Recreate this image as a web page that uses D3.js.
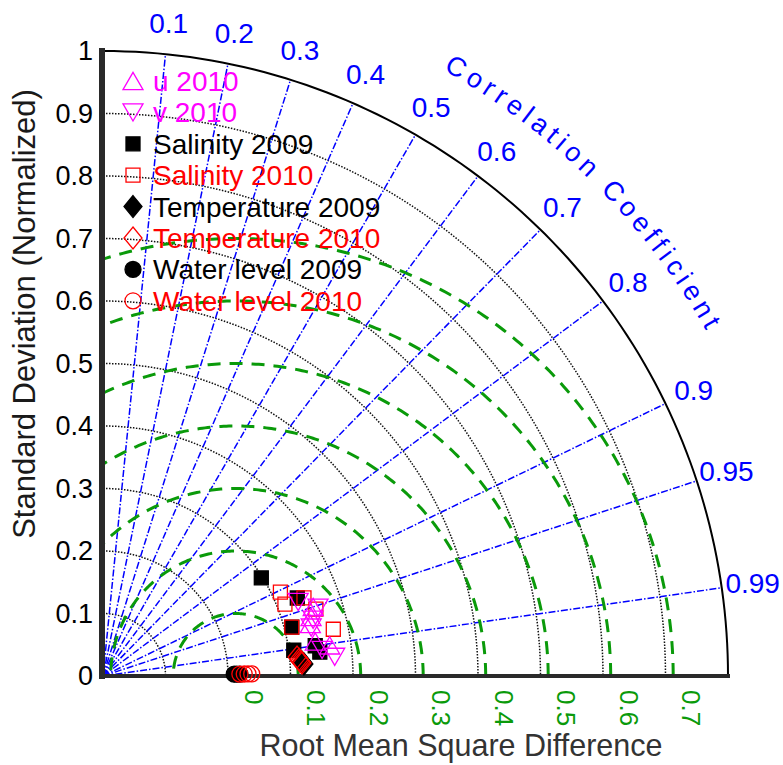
<!DOCTYPE html>
<html>
<head>
<meta charset="utf-8">
<script src="https://cdn.jsdelivr.net/npm/d3@7"></script>
<style>
  body { margin: 0; background: #fff; }
  svg { font-family: Arial, "Liberation Sans", sans-serif; }
</style>
</head>
<body>
<svg id="chart"></svg>
<script>
// Taylor diagram - normalized std / correlation / RMS difference
const stdTicks = [0, 0.1, 0.2, 0.3, 0.4, 0.5, 0.6, 0.7, 0.8, 0.9, 1];
const corrTicks = [0.1, 0.2, 0.3, 0.4, 0.5, 0.6, 0.7, 0.8, 0.9, 0.95, 0.99];
const rmsTicks = [0, 0.1, 0.2, 0.3, 0.4, 0.5, 0.6, 0.7];
const refStd = 0.2123;

const legendLabels = ["u 2010", "v 2010", "Salinity 2009", "Salinity 2010",
    "Temperature 2009", "Temperature 2010", "Water level 2009", "Water level 2010"];

const uStd = [0.354, 0.346, 0.342, 0.344, 0.366];
const uCorr = [0.950, 0.962, 0.970, 0.987, 0.991];
const vStd = [0.334, 0.361, 0.342, 0.348, 0.353, 0.372];
const vCorr = [0.935, 0.953, 0.974, 0.966, 0.993, 0.9966];
const sal09Std = [0.298, 0.335, 0.312, 0.308, 0.343, 0.349];
const sal09Corr = [0.850, 0.928, 0.968, 0.991, 0.990, 0.994];
const sal10Std = [0.314, 0.313, 0.345, 0.357, 0.376, 0.312];
const sal10Corr = [0.904, 0.930, 0.932, 0.954, 0.980, 0.968];
const tem09Std = [0.319, 0.322];
const tem09Corr = [0.9975, 0.9982];
const tem10Std = [0.312, 0.315, 0.316, 0.318, 0.319];
const tem10Corr = [0.9953, 0.9964, 0.9971, 0.9975, 0.9979];
const wl09Std = [0.210, 0.214, 0.219];
const wl09Corr = [0.9999, 0.9999, 0.9999];
const wl10Std = [0.219, 0.226, 0.232, 0.238];
const wl10Corr = [0.9999, 0.9999, 0.9999, 0.9999];

const W = 783, H = 765;
const ox = 103, oy = 676;
const blue = "#0000ff", green = "#0a9a0a", magenta = "#ff00ff", red = "#ff0000";

const svg = d3.select("#chart").attr("width", W).attr("height", H);
const r = d3.scaleLinear().domain([0, 1]).range([0, 625]);

function pos(s, c) {
    const a = Math.acos(c);
    return [ox + r(s) * Math.cos(a), oy - r(s) * Math.sin(a)];
}

// marker shapes (size = pixel width)
const shapes = {
    square: { draw(ctx, s) { ctx.rect(-s / 2, -s / 2, s, s); } },
    diamond: { draw(ctx, s) { const w = s / 2, h = s * 0.61; ctx.moveTo(0, -h); ctx.lineTo(w, 0); ctx.lineTo(0, h); ctx.lineTo(-w, 0); ctx.closePath(); } },
    circle: { draw(ctx, s) { ctx.moveTo(s / 2, 0); ctx.arc(0, 0, s / 2, 0, 2 * Math.PI); } },
    triUp: { draw(ctx, s) { const w = s / 2, h = s * 0.43; ctx.moveTo(0, -h); ctx.lineTo(w, h); ctx.lineTo(-w, h); ctx.closePath(); } },
    triDown: { draw(ctx, s) { const w = s / 2, h = s * 0.43; ctx.moveTo(0, h); ctx.lineTo(w, -h); ctx.lineTo(-w, -h); ctx.closePath(); } }
};

const series = [
    { std: sal09Std, corr: sal09Corr, shape: "square", size: 14, fill: "#000", stroke: "#000" },
    { std: sal10Std, corr: sal10Corr, shape: "square", size: 14, fill: "none", stroke: red },
    { std: tem09Std, corr: tem09Corr, shape: "diamond", size: 18, fill: "#000", stroke: "#000" },
    { std: tem10Std, corr: tem10Corr, shape: "diamond", size: 18, fill: "none", stroke: red },
    { std: wl09Std, corr: wl09Corr, shape: "circle", size: 16, fill: "#000", stroke: "#000" },
    { std: wl10Std, corr: wl10Corr, shape: "circle", size: 16, fill: "none", stroke: red },
    { std: uStd, corr: uCorr, shape: "triUp", size: 20, fill: "none", stroke: magenta },
    { std: vStd, corr: vCorr, shape: "triDown", size: 20, fill: "none", stroke: magenta }
];
const legendOrder = [6, 7, 0, 1, 2, 3, 4, 5];
const legendColors = [magenta, magenta, "#000", red, "#000", red, "#000", red];

const plot = svg.append("g");
const radial = d3.lineRadial().angle(d => d[0]).radius(d => d[1]);
const quarter = d3.range(0, 91).map(i => i * Math.PI / 180);

// std dotted arcs
stdTicks.filter(t => t > 0 && t < 1).forEach(t => {
    plot.append("path")
        .attr("transform", `translate(${ox},${oy})`)
        .attr("d", radial(quarter.map(a => [a, r(t)])))
        .attr("fill", "none")
        .attr("stroke", "#111")
        .attr("stroke-width", 1.5)
        .attr("stroke-dasharray", "1.5,1.5");
});

// correlation lines
corrTicks.forEach(c => {
    const p = pos(1, c);
    plot.append("line")
        .attr("x1", ox).attr("y1", oy)
        .attr("x2", p[0]).attr("y2", p[1])
        .attr("stroke", blue)
        .attr("stroke-width", 1.5)
        .attr("stroke-dasharray", "7,2,1.5,2");
});

// RMS difference arcs
const rmsLine = d3.line();
rmsTicks.filter(t => t > 0).forEach(t => {
    const tMax = t <= refStd ? Math.PI : Math.acos(-refStd / t);
    const pts = d3.range(0, 201).map(i => {
        const th = tMax * i / 200;
        return [ox + r(refStd) + r(t) * Math.cos(th), oy - r(t) * Math.sin(th)];
    });
    plot.append("path")
        .attr("d", rmsLine(pts))
        .attr("fill", "none")
        .attr("stroke", green)
        .attr("stroke-width", 3)
        .attr("stroke-dasharray", "13,9");
});

// outer arc
plot.append("path")
    .attr("transform", `translate(${ox},${oy})`)
    .attr("d", radial(quarter.map(a => [a, r(1)])))
    .attr("fill", "none")
    .attr("stroke", "#000")
    .attr("stroke-width", 2);

// axes
plot.append("line")
    .attr("x1", ox - 1).attr("y1", oy - r(1) - 3)
    .attr("x2", ox - 1).attr("y2", oy + 3)
    .attr("stroke", "#2a2a2a").attr("stroke-width", 6);
plot.append("line")
    .attr("x1", ox - 3).attr("y1", oy)
    .attr("x2", ox + r(1) + 2).attr("y2", oy)
    .attr("stroke", "#2a2a2a").attr("stroke-width", 4);

// std tick labels
svg.selectAll(".ytick")
    .data(stdTicks)
    .enter().append("text")
    .attr("class", "ytick")
    .attr("x", 93)
    .attr("y", d => oy - r(d))
    .attr("dy", "0.35em")
    .attr("text-anchor", "end")
    .style("font-size", "27px")
    .text(d => d3.format("")(d));

// correlation labels
svg.selectAll(".ctick")
    .data(corrTicks)
    .enter().append("text")
    .attr("class", "ctick")
    .attr("x", d => pos(1.05, d)[0])
    .attr("y", d => pos(1.05, d)[1])
    .attr("dy", "0.35em")
    .attr("text-anchor", "middle")
    .attr("fill", blue)
    .style("font-size", "28px")
    .text(d => d);

// RMS labels
svg.selectAll(".rtick")
    .data(rmsTicks)
    .enter().append("text")
    .attr("class", "rtick")
    .attr("transform", d => `translate(${ox + r(refStd + d) + 9},690) rotate(90)`)
    .attr("fill", green)
    .style("font-size", "26px")
    .text(d => d);

// curved "Correlation Coefficient" title, one letter at a time
const title = "Correlation Coefficient";
const arcR = r(1.112);
const a0 = 60.7 * Math.PI / 180;
const spacing = 4.9;
const probe = svg.append("text").style("font-size", "27px").text(title);
const widths = title.split("").map((ch, i) => probe.node().getSubStringLength(i, 1));
probe.remove();
let run = 0;
const letters = title.split("").map((ch, i) => {
    const mid = run + widths[i] / 2;
    run += widths[i] + spacing;
    return { ch: ch, a: a0 - mid / arcR };
});
svg.selectAll(".ctitle")
    .data(letters.filter(d => d.ch !== " "))
    .enter().append("text")
    .attr("class", "ctitle")
    .attr("transform", d => `translate(${ox + arcR * Math.cos(d.a)},${oy - arcR * Math.sin(d.a)}) rotate(${90 - d.a * 180 / Math.PI})`)
    .attr("text-anchor", "middle")
    .attr("fill", blue)
    .style("font-size", "27px")
    .text(d => d.ch);

// axis titles
svg.append("text")
    .attr("transform", "translate(35,314) rotate(-90)")
    .attr("text-anchor", "middle")
    .attr("fill", "#1a1a1a")
    .style("font-size", "31px")
    .text("Standard Deviation (Normalized)");

svg.append("text")
    .attr("x", 461)
    .attr("y", 756)
    .attr("text-anchor", "middle")
    .attr("fill", "#333")
    .style("font-size", "30.5px")
    .text("Root Mean Square Difference");

// data markers
const sym = d3.symbol();
series.forEach(s => {
    plot.selectAll(null)
        .data(s.std.map((v, i) => pos(v, s.corr[i])))
        .enter().append("path")
        .attr("transform", d => `translate(${d[0]},${d[1]})`)
        .attr("d", sym.type(shapes[s.shape]).size(s.size)())
        .attr("fill", s.fill)
        .attr("stroke", s.stroke)
        .attr("stroke-width", 1.3);
});

// legend
const legend = svg.selectAll(".legend")
    .data(legendOrder)
    .enter().append("g")
    .attr("class", "legend")
    .attr("transform", (d, i) => `translate(133,${81 + i * 31.4})`);

legend.append("path")
    .attr("d", d => sym.type(shapes[series[d].shape]).size(series[d].size)())
    .attr("fill", d => series[d].fill)
    .attr("stroke", d => series[d].stroke)
    .attr("stroke-width", 1.3);

legend.append("text")
    .attr("x", 20)
    .attr("y", 10)
    .attr("fill", (d, i) => legendColors[i])
    .style("font-size", "28px")
    .text((d, i) => legendLabels[i]);
</script>
</body>
</html>
